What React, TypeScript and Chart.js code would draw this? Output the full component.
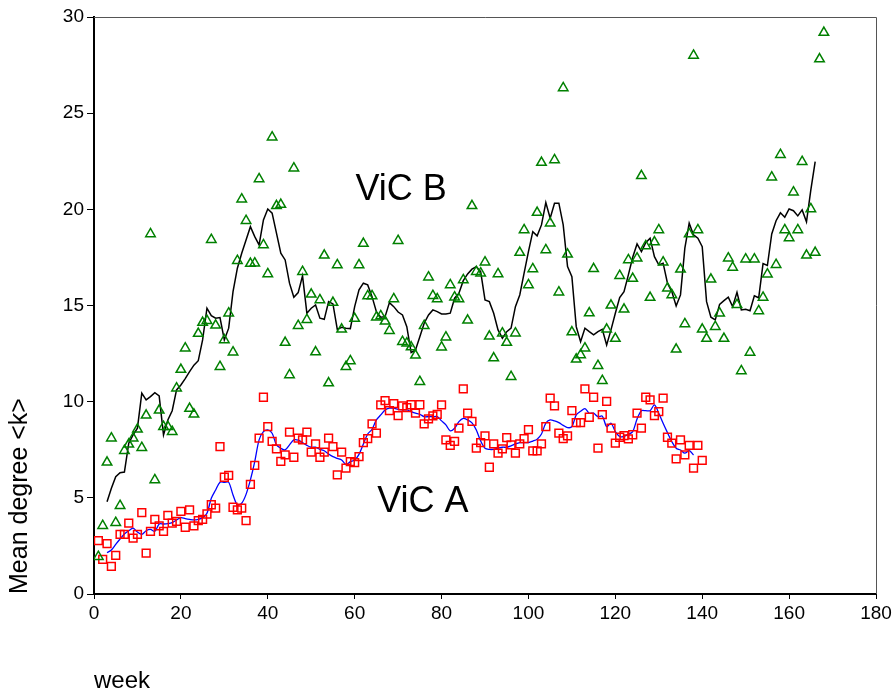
import React, { useEffect, useRef } from 'react';
import { Chart, registerables } from 'chart.js';

Chart.register(...registerables);

// ViC B weekly mean degree (triangles), weeks 1..168
const VIC_B_FIRST_WEEK = 1;
const vicB = [
  1.94, 3.55, 6.85, 8.10, 3.71, 4.59, 7.45, 7.78, 8.10, 8.56,
  7.61, 9.29, 18.72, 5.93, 9.55, 8.70, 8.70, 8.44, 10.70, 11.67,
  12.78, 9.64, 9.34, 13.54, 14.11, 14.21, 18.42, 13.97, 11.82, 13.21,
  14.60, 12.57, 17.33, 20.53, 19.41, 17.18, 17.20, 21.58, 18.15, 16.64,
  23.75, 20.18, 20.25, 13.07, 11.39, 22.14, 13.95, 16.76, 14.26, 15.58,
  12.58, 15.29, 17.61, 10.97, 15.15, 17.11, 13.76, 11.82, 12.12, 14.32,
  17.11, 18.22, 15.50, 15.50, 14.39, 14.46, 14.18, 13.69, 15.34, 18.37,
  13.12, 13.04, 12.84, 12.41, 11.04, 13.95, 16.47, 15.51, 15.34, 12.83,
  13.35, 16.07, 15.43, 15.34, 16.33, 14.23, 20.18, 16.76, 16.68, 17.25,
  13.40, 12.27, 16.64, 13.56, 13.07, 11.30, 13.56, 17.75, 18.93, 16.07,
  16.90, 19.83, 22.43, 17.89, 19.28, 22.57, 15.69, 26.31, 17.66, 13.62,
  12.20, 12.43, 12.78, 14.61, 16.91, 11.87, 11.09, 13.76, 15.01, 13.28,
  16.55, 14.80, 17.37, 16.40, 17.46, 21.74, 18.10, 15.41, 18.30, 18.93,
  17.25, 15.90, 15.55, 12.72, 16.88, 14.04, 18.72, 28.00, 18.93, 13.76,
  13.28, 16.36, 13.90, 14.60, 13.28, 17.46, 16.98, 15.04, 11.60, 17.41,
  12.56, 17.41, 14.72, 15.42, 16.63, 21.67, 17.12, 22.84, 18.93, 18.51,
  20.89, 18.93, 22.48, 17.61, 20.02, 17.75, 27.81, 29.19,
];

// ViC A weekly mean degree (squares), weeks 1..140
const VIC_A_FIRST_WEEK = 1;
const vicA = [
  2.77, 1.80, 2.62, 1.44, 2.01, 3.10, 3.10, 3.68, 2.90, 3.10,
  4.23, 2.13, 3.26, 3.88, 3.54, 3.26, 4.09, 3.68, 3.78, 4.30,
  3.47, 4.37, 3.54, 3.81, 3.88, 4.16, 4.64, 4.46, 7.66, 6.07,
  6.17, 4.51, 4.37, 4.46, 3.81, 5.70, 6.69, 8.10, 10.23, 8.70,
  7.94, 7.54, 6.90, 7.23, 8.42, 7.11, 8.10, 8.01, 8.42, 7.38,
  7.80, 7.11, 7.38, 8.10, 7.66, 6.19, 7.38, 6.54, 6.88, 6.83,
  7.14, 7.87, 8.08, 8.84, 8.36, 9.83, 10.05, 9.53, 9.90, 9.27,
  9.78, 9.69, 9.84, 9.40, 9.84, 8.84, 9.10, 9.26, 9.34, 9.83,
  8.01, 7.73, 7.94, 8.62, 10.66, 9.40, 8.98, 7.58, 7.87, 8.22,
  6.59, 7.80, 7.32, 7.54, 8.13, 7.75, 7.32, 7.80, 8.08, 8.55,
  7.44, 7.44, 7.80, 8.70, 10.18, 9.78, 8.36, 8.08, 8.22, 9.53,
  8.91, 8.91, 10.66, 9.19, 10.23, 7.58, 9.33, 10.02, 8.62, 7.84,
  8.15, 8.23, 8.06, 8.28, 9.40, 8.62, 10.23, 10.09, 9.27, 9.48,
  10.18, 8.15, 7.84, 7.02, 8.01, 7.23, 7.73, 6.54, 7.73, 6.95,
];

// ViC B smoothed curve (black), weeks 3..166
const VIC_B_TREND_FIRST_WEEK = 3;
const vicBTrend = [
  4.80, 5.50, 6.10, 6.31, 6.34, 7.84, 8.27, 8.62, 10.44, 10.09,
  10.26, 10.47, 10.30, 8.27, 9.05, 9.53, 10.61, 10.87, 11.20, 11.56,
  11.90, 12.13, 13.21, 14.86, 14.47, 14.34, 14.37, 13.21, 13.82, 15.72,
  16.94, 17.72, 18.41, 19.10, 18.58, 18.15, 19.45, 20.02, 19.80, 18.76,
  17.72, 17.37, 16.16, 15.43, 15.67, 16.54, 14.60, 14.86, 15.03, 14.34,
  14.28, 15.20, 15.08, 13.76, 13.87, 13.82, 13.80, 14.94, 15.81, 16.16,
  16.07, 15.46, 14.68, 14.39, 14.42, 15.15, 14.94, 14.66, 14.51, 13.90,
  12.55, 12.69, 13.38, 14.08, 14.51, 14.77, 14.68, 14.56, 14.56, 14.60,
  15.38, 15.64, 16.29, 16.64, 16.89, 17.02, 16.76, 15.29, 15.20, 14.60,
  13.73, 13.30, 13.64, 13.82, 14.94, 15.55, 16.68, 17.80, 18.84, 18.62,
  19.19, 20.35, 19.54, 20.32, 20.32, 19.19, 17.02, 16.50, 13.90, 13.12,
  13.82, 13.64, 13.47, 13.64, 13.76, 12.95, 13.73, 14.60, 15.41, 15.72,
  16.59, 17.51, 18.20, 17.80, 18.27, 18.50, 17.54, 17.11, 17.20, 16.16,
  15.72, 14.98, 15.55, 17.98, 19.28, 18.67, 18.50, 18.06, 15.20, 14.39,
  14.25, 15.06, 15.25, 15.43, 14.94, 15.69, 14.77, 14.80, 14.73, 15.50,
  15.40, 17.18, 17.08, 18.72, 19.41, 19.82, 19.59, 20.02, 19.93, 19.66,
  19.97, 19.35, 21.01, 22.48,
];

// ViC A smoothed curve (blue), weeks 3..138
const VIC_A_TREND_FIRST_WEEK = 3;
const vicATrend = [
  2.15, 2.29, 2.58, 2.86, 3.12, 3.29, 3.42, 3.22, 3.10, 3.29,
  3.36, 3.26, 3.64, 3.64, 3.66, 3.71, 3.85, 3.97, 3.92, 3.88,
  3.85, 3.88, 3.97, 4.20, 4.98, 5.41, 5.81, 5.81, 5.81, 5.15,
  4.63, 4.72, 5.18, 5.93, 6.88, 8.01, 8.44, 8.53, 8.36, 7.75,
  7.58, 7.49, 7.75, 8.01, 8.00, 7.87, 7.73, 7.63, 7.63, 7.52,
  7.45, 7.28, 7.14, 7.05, 6.97, 6.74, 6.88, 6.97, 7.26, 7.80,
  8.32, 8.56, 9.05, 9.31, 9.57, 9.66, 9.66, 9.60, 9.57, 9.57,
  9.48, 9.40, 9.34, 9.22, 9.22, 9.22, 9.22, 9.00, 8.79, 8.48,
  8.62, 8.96, 9.13, 9.05, 8.90, 8.53, 7.95, 7.58, 7.52, 7.52,
  7.58, 7.63, 7.63, 7.70, 7.80, 7.87, 7.87, 7.87, 7.95, 8.05,
  8.32, 8.88, 9.05, 9.00, 8.91, 8.77, 8.65, 8.70, 9.31, 9.50,
  9.64, 9.40, 9.40, 9.22, 9.25, 8.70, 8.88, 8.44, 8.18, 8.20,
  8.30, 8.44, 9.10, 9.53, 9.53, 9.53, 9.83, 9.40, 8.88, 8.39,
  7.92, 7.58, 7.49, 7.32, 7.45, 7.23,
];

const xTickValues = [0, 20, 40, 60, 80, 100, 120, 140, 160, 180];
const yTickValues = [0, 5, 10, 15, 20, 25, 30];
const xTitle = 'week';
const yTitle = 'Mean degree <k>';
const seriesLabels = ['ViC B', 'ViC A'];
const seriesLabelWeek = [70.7, 75.7];
const seriesLabelValue = [20.49, 4.28];

const FONT = '"Liberation Sans", Arial, Helvetica, sans-serif';

const toPoints = (values: number[], firstWeek: number) =>
  values.map((v, i) => ({ x: firstWeek + i, y: v }));

const decorPlugin = {
  id: 'decor',
  afterDraw(chart: any) {
    const { ctx, chartArea: a, scales } = chart;
    ctx.save();
    ctx.strokeStyle = '#555';
    ctx.lineWidth = 1;
    ctx.beginPath();
    ctx.moveTo(a.left, a.top + 0.5);
    ctx.lineTo(a.right + 0.5, a.top + 0.5);
    ctx.lineTo(a.right + 0.5, a.bottom);
    ctx.stroke();
    ctx.fillStyle = '#000';
    ctx.font = `36px ${FONT}`;
    ctx.textAlign = 'center';
    ctx.textBaseline = 'alphabetic';
    seriesLabels.forEach((t, i) => {
      ctx.fillText(
        t,
        scales.x.getPixelForValue(seriesLabelWeek[i]),
        scales.y.getPixelForValue(seriesLabelValue[i])
      );
    });
    ctx.restore();
  },
};

export default function App() {
  const ref = useRef<HTMLCanvasElement | null>(null);

  useEffect(() => {
    if (!ref.current) return;
    Chart.defaults.font.family = FONT;
    const chart = new Chart(ref.current, {
      type: 'scatter',
      data: {
        datasets: [
          {
            label: 'ViC B',
            data: toPoints(vicB, VIC_B_FIRST_WEEK),
            pointStyle: 'triangle',
            radius: 5.5,
            borderColor: '#008000',
            backgroundColor: 'rgba(0,0,0,0)',
            borderWidth: 1.5,
            showLine: false,
          },
          {
            label: 'ViC A',
            data: toPoints(vicA, VIC_A_FIRST_WEEK),
            pointStyle: 'rect',
            radius: 5.5,
            borderColor: '#ff0000',
            backgroundColor: 'rgba(0,0,0,0)',
            borderWidth: 1.5,
            showLine: false,
          },
          {
            label: 'ViC B trend',
            data: toPoints(vicBTrend, VIC_B_TREND_FIRST_WEEK),
            showLine: true,
            borderColor: '#000',
            borderWidth: 1.5,
            pointRadius: 0,
            tension: 0,
          },
          {
            label: 'ViC A trend',
            data: toPoints(vicATrend, VIC_A_TREND_FIRST_WEEK),
            showLine: true,
            borderColor: '#0000ff',
            borderWidth: 1.3,
            pointRadius: 0,
            tension: 0.3,
          },
        ],
      },
      options: {
        animation: false,
        responsive: false,
        devicePixelRatio: 1,
        layout: { padding: { top: 17, right: 19, left: 0, bottom: 0 } },
        plugins: { legend: { display: false }, tooltip: { enabled: false } },
        scales: {
          x: {
            type: 'linear',
            min: 0,
            max: 180,
            afterBuildTicks: (s: any) => {
              s.ticks = xTickValues.map((v) => ({ value: v }));
            },
            afterFit: (s: any) => {
              s.height = 101;
            },
            ticks: { color: '#000', font: { size: 19 }, padding: 3, maxRotation: 0, autoSkip: false },
            grid: { display: true, drawOnChartArea: false, drawTicks: true, tickLength: 5, color: '#000', lineWidth: 1 },
            border: { display: true, color: '#000', width: 2 },
            title: {
              display: true,
              text: xTitle,
              align: 'start',
              color: '#000',
              font: { size: 24 },
              padding: { top: 0, bottom: -1 },
            },
          },
          y: {
            type: 'linear',
            min: 0,
            max: 30,
            afterBuildTicks: (s: any) => {
              s.ticks = yTickValues.map((v) => ({ value: v }));
            },
            afterFit: (s: any) => {
              s.width = 94;
            },
            ticks: { color: '#000', font: { size: 19 }, padding: 3, autoSkip: false },
            grid: { display: true, drawOnChartArea: false, drawTicks: true, tickLength: 7, color: '#000', lineWidth: 1 },
            border: { display: true, color: '#000', width: 2 },
            title: {
              display: true,
              text: yTitle,
              align: 'start',
              color: '#000',
              font: { size: 25 },
              padding: { top: 5, bottom: 0 },
            },
          },
        },
      },
      plugins: [decorPlugin],
    } as any);
    return () => chart.destroy();
  }, []);

  return (
    <div style={{ position: 'fixed', left: 0, top: 0, width: 895, height: 695, background: '#fff' }}>
      <canvas ref={ref} width={895} height={695} style={{ display: 'block' }} />
    </div>
  );
}
